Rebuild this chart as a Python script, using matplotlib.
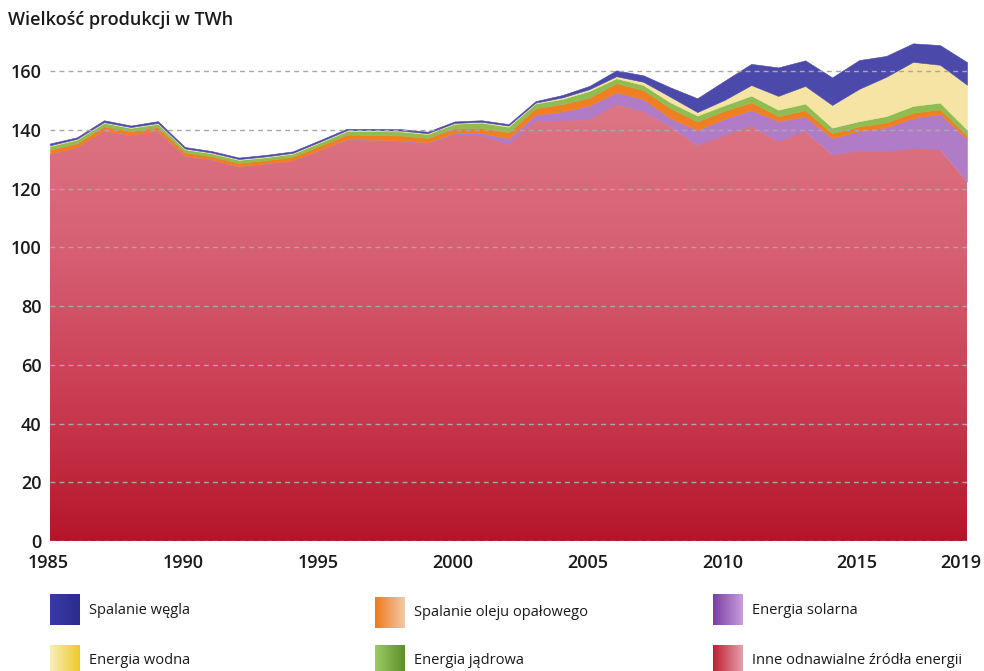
import matplotlib
matplotlib.use('Agg')
import matplotlib.pyplot as plt
import matplotlib.transforms as mtransforms
import numpy as np
from matplotlib.colors import LinearSegmentedColormap

plt.rcParams['font.family'] = ['Open Sans', 'DejaVu Sans']

# Data (TWh), bottom layer first
years = list(range(1985, 2020))

inne_oze = [131.5, 133.8, 139.4, 138.0, 139.4, 130.9, 129.6, 127.3, 128.2, 129.3,
            132.8, 136.3, 136.1, 135.8, 135.0, 138.1, 137.9, 135.0, 142.9, 143.1,
            143.4, 148.7, 146.2, 141.0, 134.7, 138.0, 141.3, 135.9, 139.5, 131.4,
            132.8, 132.5, 133.6, 133.3, 122.4]
solarna = [0.3, 0.3, 0.3, 0.3, 0.3, 0.3, 0.3, 0.3, 0.3, 0.3,
           0.4, 0.5, 0.6, 0.6, 0.7, 0.8, 1.0, 2.2, 2.2, 3.2,
           4.9, 4.1, 4.3, 3.0, 5.3, 5.8, 5.5, 7.1, 5.1, 5.8,
           6.8, 8.3, 10.5, 12.1, 14.5]
olej = [1.5, 1.4, 1.5, 1.3, 1.3, 1.2, 1.1, 1.2, 1.2, 1.3,
        1.4, 1.6, 1.6, 1.7, 1.6, 1.7, 1.8, 2.0, 2.3, 2.5,
        2.7, 3.1, 3.1, 3.4, 2.9, 2.7, 2.6, 1.7, 2.1, 1.7,
        1.6, 1.8, 1.8, 1.6, 1.2]
jadrowa = [1.2, 1.2, 1.2, 1.1, 1.1, 1.0, 1.0, 1.0, 1.0, 1.0,
           1.1, 1.2, 1.3, 1.4, 1.3, 1.5, 1.8, 1.9, 1.6, 1.8,
           2.3, 1.7, 1.7, 2.0, 2.0, 1.9, 2.3, 2.2, 2.3, 1.9,
           1.8, 2.1, 2.3, 2.3, 2.0]
wodna = [0.3, 0.3, 0.3, 0.3, 0.3, 0.3, 0.3, 0.3, 0.3, 0.3,
         0.3, 0.3, 0.3, 0.3, 0.3, 0.3, 0.3, 0.4, 0.3, 0.5,
         0.6, 0.7, 1.1, 1.9, 1.2, 1.8, 3.6, 4.7, 6.0, 7.7,
         11.0, 13.4, 15.0, 12.9, 15.3]
wegiel = [0.6, 0.5, 0.6, 0.5, 0.6, 0.5, 0.5, 0.5, 0.5, 0.5,
          0.5, 0.5, 0.5, 0.5, 0.5, 0.5, 0.5, 0.5, 0.5, 0.8,
          1.1, 2.0, 2.2, 3.2, 4.7, 6.5, 7.2, 9.7, 8.7, 9.4,
          9.8, 7.1, 6.3, 6.7, 7.7]

x_ticks = [1985, 1990, 1995, 2000, 2005, 2010, 2015, 2019]
y_ticks = [0, 20, 40, 60, 80, 100, 120, 140, 160]

layer_colors = ['#d9687a', '#b07cc8', '#f07f24', '#8fbd52', '#f5e4a3', '#4b4aab']

fig = plt.figure(figsize=(9.84, 6.71), dpi=100)
ax = fig.add_axes([50 / 984, 130 / 671, 917 / 984, 505 / 671])

polys = ax.stackplot(years, inne_oze, solarna, olej, jadrowa, wodna, wegiel,
                     colors=layer_colors, linewidth=0.4, zorder=2)
for p, c in zip(polys, layer_colors):
    p.set_edgecolor(c)

# vertical gradient for the red bottom layer
red_cmap = LinearSegmentedColormap.from_list(
    'red', [(0.0, '#b5152a'), (0.3, '#c93a50'), (0.65, '#d65f72'), (1.0, '#dd7785')])
grad = np.linspace(0, 1, 256).reshape(-1, 1)
im = ax.imshow(grad, cmap=red_cmap, extent=[1985, 2019, 0, 150], origin='lower',
               aspect='auto', zorder=2.5)
im.set_clip_path(polys[0].get_paths()[0], transform=ax.transData)
polys[0].set_facecolor('none')
polys[0].set_edgecolor('none')

ax.set_xlim(1985, 2019)
ax.set_ylim(0, 172)
ax.set_xticks(x_ticks)
ax.set_yticks(y_ticks)
ax.tick_params(length=0, labelsize=13, labelcolor='#1a1a1a')
ax.tick_params(axis='x', pad=9)
ax.tick_params(axis='y', pad=6)
for lab in ax.get_xticklabels() + ax.get_yticklabels():
    lab.set_fontweight('semibold')
# nudge year labels a little to the left, like the original
for yr, lab in zip(x_ticks, ax.get_xticklabels()):
    shift = -6 if yr == 2019 else -2
    lab.set_transform(lab.get_transform() +
                      mtransforms.ScaledTranslation(shift / 100, 0, fig.dpi_scale_trans))
for s in ax.spines.values():
    s.set_visible(False)
for yv in y_ticks:
    ax.axhline(yv, color='#a8a8a8', lw=1.0, ls=(0, (3.5, 3)), zorder=5)

# overlay in pixel coordinates for title and legend
ov = fig.add_axes([0, 0, 1, 1], zorder=-1)
ov.set_xlim(0, 984)
ov.set_ylim(671, 0)
ov.axis('off')

ov.text(8, 20, 'Wielkość produkcji w TWh', fontsize=13, fontweight='semibold',
        color='#1a1a1a', va='center', ha='left')

legend_items = [
    ('Spalanie węgla', 50, 594, ['#3a3aa8', '#2c2c8c']),
    ('Spalanie oleju opałowego', 375, 597, ['#ef7a1c', '#f2c8a8']),
    ('Energia solarna', 713, 594, ['#7b3fa3', '#c79ddc']),
    ('Energia wodna', 50, 645, ['#f8eeb8', '#eec92a']),
    ('Energia jądrowa', 375, 645, ['#9ccb64', '#5f8f2a']),
    ('Inne odnawialne źródła energii', 713, 645, ['#c21f33', '#e4a0ab']),
]
hgrad = np.linspace(0, 1, 64).reshape(1, -1)
for label, lx, ly, cols in legend_items:
    cm = LinearSegmentedColormap.from_list(label, cols)
    ov.imshow(hgrad, cmap=cm, extent=[lx, lx + 30, ly + 31, ly], aspect='auto')
    ov.text(lx + 39, ly + 16, label, fontsize=10.5, color='#1a1a1a',
            va='center', ha='left')
ov.set_xlim(0, 984)
ov.set_ylim(671, 0)

fig.savefig('out.png', dpi=100)
